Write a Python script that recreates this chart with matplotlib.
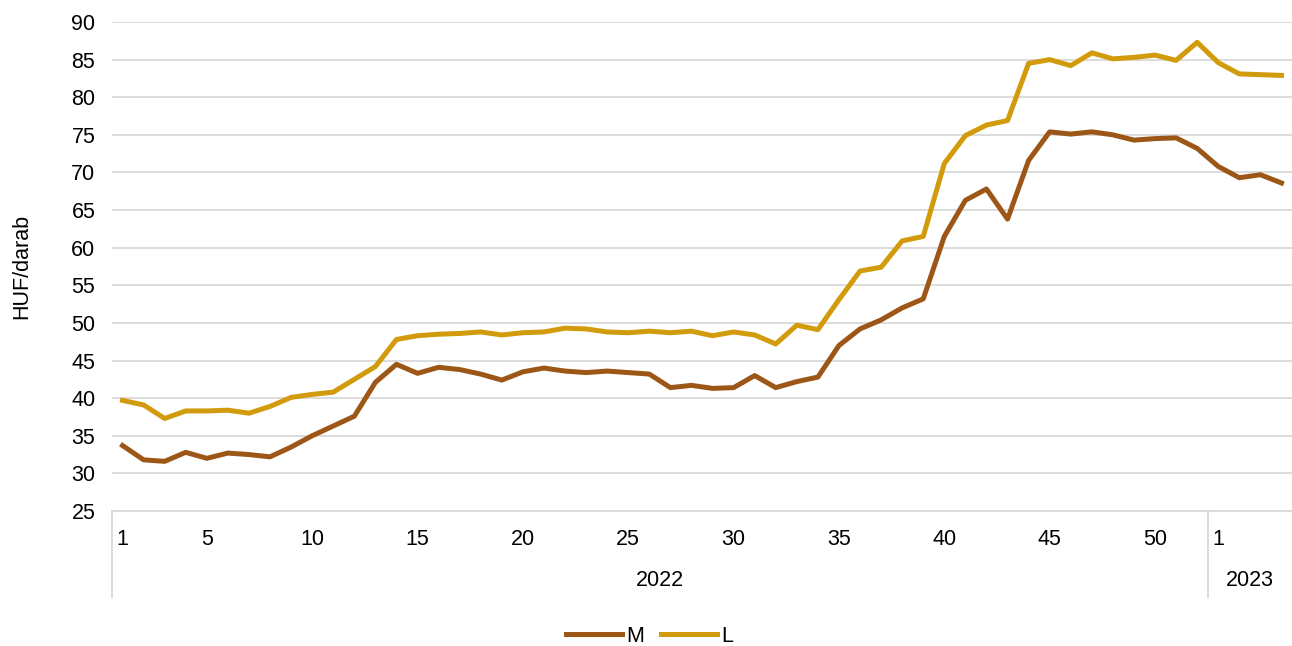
import matplotlib.pyplot as plt
import matplotlib.transforms as mtransforms

weeks_2022 = list(range(1, 53))
weeks_2023 = [1, 2, 3, 4]
years = ['2022', '2023']

m_values = [33.7, 31.8, 31.6, 32.8, 32.0, 32.7, 32.5, 32.2, 33.5, 35.0,
            36.3, 37.6, 42.1, 44.5, 43.3, 44.1, 43.8, 43.2, 42.4, 43.5,
            44.0, 43.6, 43.4, 43.6, 43.4, 43.2, 41.4, 41.7, 41.3, 41.4,
            43.0, 41.4, 42.2, 42.8, 47.0, 49.2, 50.4, 52.0, 53.2, 61.5,
            66.3, 67.8, 63.8, 71.6, 75.4, 75.1, 75.4, 75.0, 74.3, 74.5,
            74.6, 73.2, 70.8, 69.3, 69.7, 68.6]
l_values = [39.7, 39.1, 37.3, 38.3, 38.3, 38.4, 38.0, 38.9, 40.1, 40.5,
            40.8, 42.5, 44.2, 47.8, 48.3, 48.5, 48.6, 48.8, 48.4, 48.7,
            48.8, 49.3, 49.2, 48.8, 48.7, 48.9, 48.7, 48.9, 48.3, 48.8,
            48.4, 47.2, 49.7, 49.1, 53.1, 56.9, 57.4, 60.9, 61.5, 71.2,
            74.9, 76.3, 76.9, 84.5, 85.0, 84.2, 85.9, 85.1, 85.3, 85.6,
            84.9, 87.3, 84.6, 83.1, 83.0, 82.9]

shown_2022 = [1, 5, 10, 15, 20, 25, 30, 35, 40, 45, 50]
shown_2023 = [1]

plt.rcParams['font.family'] = ['Liberation Sans', 'DejaVu Sans']
plt.rcParams['font.size'] = 15.5

fig = plt.figure(figsize=(12.92, 6.46), dpi=100)
ax = fig.add_axes([112 / 1292, 1 - 511 / 646, 1 - 112 / 1292, 489 / 646])

x = list(range(len(weeks_2022) + len(weeks_2023)))
ax.plot(x, m_values, color='#9C5717', lw=3.6, label='M', solid_joinstyle='round')
ax.plot(x, l_values, color='#D29B0B', lw=3.6, label='L', solid_joinstyle='round')

ax.set_xlim(-0.5, len(x) - 0.5)
ax.set_ylim(25, 90)
ax.set_yticks(range(25, 91, 5))
ax.grid(axis='y', color='#d9d9d9', lw=1.3)
ax.set_axisbelow(True)
for s in ['top', 'right', 'left']:
    ax.spines[s].set_visible(False)
ax.spines['bottom'].set_color('#d9d9d9')
ax.spines['bottom'].set_linewidth(1.3)

tick_pos = [weeks_2022.index(w) for w in shown_2022] + \
           [len(weeks_2022) + weeks_2023.index(w) for w in shown_2023]
ax.set_xticks(tick_pos)
ax.set_xticklabels([str(w) for w in shown_2022] + [str(w) for w in shown_2023])
ax.tick_params(axis='x', length=0, pad=13)
ax.tick_params(axis='y', length=0, pad=12)
ax.set_ylabel('HUF/darab', labelpad=28)

trans = mtransforms.blended_transform_factory(ax.transData, ax.transAxes)
split = len(weeks_2022) - 0.5
for xs in [-0.5, split]:
    ax.plot([xs, xs], [0, -0.176], transform=trans, color='#d9d9d9', lw=1.3, clip_on=False)
ax.text((-0.5 + split) / 2, -0.143, years[0], transform=trans, ha='center', va='center')
ax.text((split + len(x) - 0.5) / 2, -0.143, years[1], transform=trans, ha='center', va='center')

fig.legend(loc='center', bbox_to_anchor=(0.503, 1 - 636 / 646), ncol=2, frameon=False,
           handlelength=2.6, handletextpad=0.2, columnspacing=0.8)

fig.savefig('out.png', dpi=100)
